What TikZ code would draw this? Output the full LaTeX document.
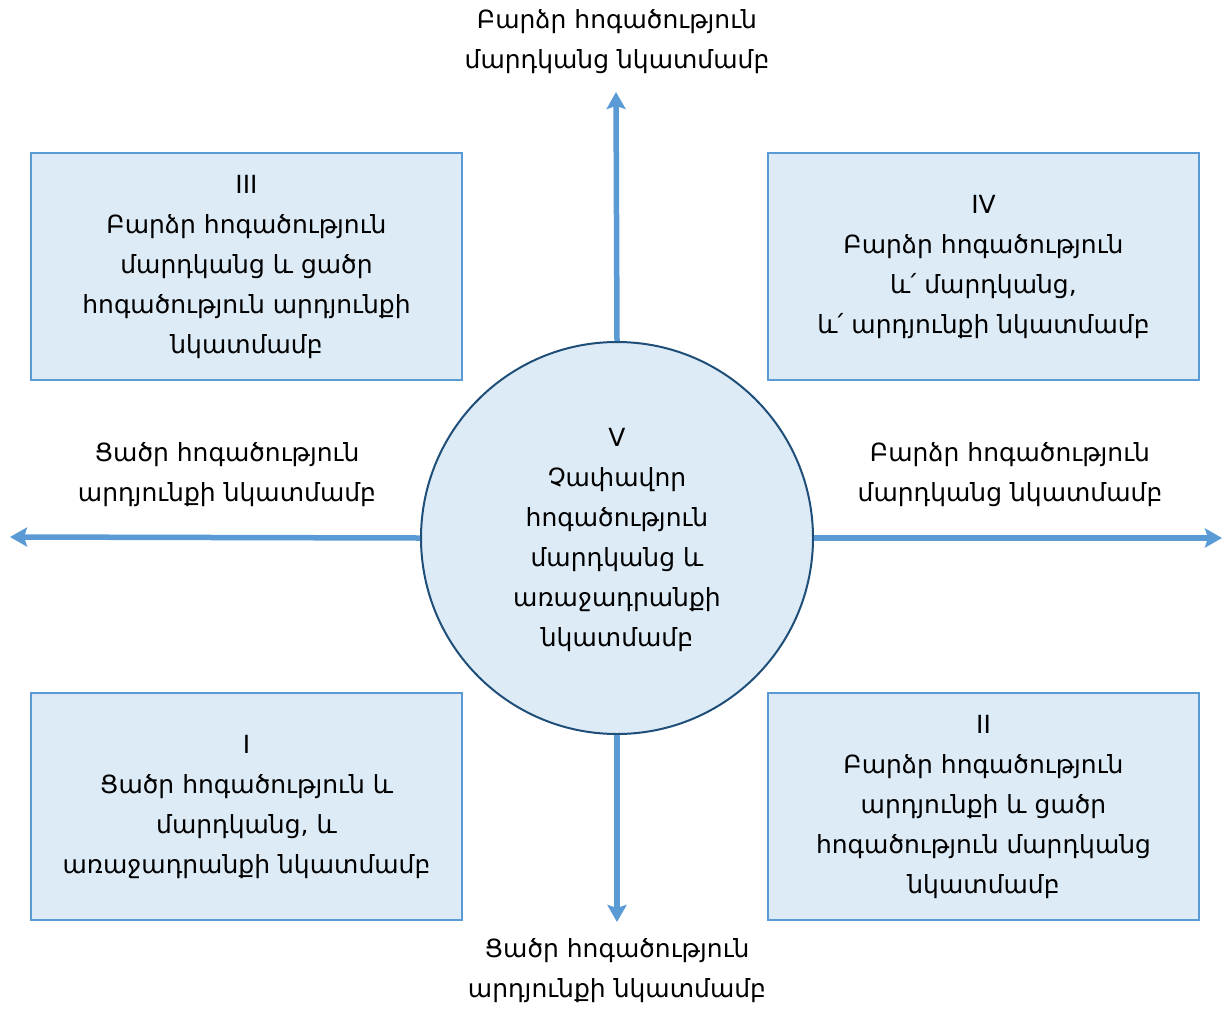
\documentclass[tikz,border=0pt]{standalone}
\usepackage{fontspec}
\setmainfont{DejaVu Sans}
\usetikzlibrary{arrows.meta}
\definecolor{lineblue}{HTML}{5B9BD5}
\definecolor{fillblue}{HTML}{DDEBF7}
\definecolor{darkblue}{HTML}{1F4E79}
\begin{document}
\begin{tikzpicture}[x=1pt,y=-1pt,
  every node/.style={font=\fontsize{25}{40}\selectfont, align=center, inner sep=0pt},
  quadbox/.style={draw=lineblue, fill=fillblue, line width=2pt, minimum width=431pt, minimum height=227pt},
  centre/.style={circle, draw=darkblue, fill=fillblue, line width=2pt, minimum size=392pt},
  axis/.style={draw=lineblue, line width=5.5pt, -{Stealth[length=17pt,width=19pt,inset=3pt]}},
  lbl/.style={}]
\useasboundingbox (0,0) rectangle (1225,1012);
\node[quadbox] (q3) at (246.5,266.5) {III\\Բարձր հոգածություն\\մարդկանց և ցածր\\հոգածություն արդյունքի\\նկատմամբ};
\node[quadbox] (q4) at (983.5,266.5) {IV\\Բարձր հոգածություն\\և՛ մարդկանց,\\և՛ արդյունքի նկատմամբ};
\node[quadbox] (q1) at (246.5,806.5) {I\\Ցածր հոգածություն և\\մարդկանց, և\\առաջադրանքի նկատմամբ};
\node[quadbox] (q2) at (983.5,806.5) {II\\Բարձր հոգածություն\\արդյունքի և ցածր\\հոգածություն մարդկանց\\նկատմամբ};
\node[centre] (c) at (617,538) {};
\node (ct) at (617,540) {V\\Չափավոր\\հոգածություն\\մարդկանց և\\առաջադրանքի\\նկատմամբ};
\coordinate (up) at (616,92);
\coordinate (down) at (617,922);
\coordinate (left) at (10,537);
\coordinate (right) at (1222,538);
\draw[axis] (c.north) -- (up);
\draw[axis] (c.south) -- (down);
\draw[axis] (c.west) -- (left);
\draw[axis] (c.east) -- (right);
\node[lbl] (lt) at (617,42) {Բարձր հոգածություն\\մարդկանց նկատմամբ};
\node[lbl] (lb) at (617,971) {Ցածր հոգածություն\\արդյունքի նկատմամբ};
\node[lbl] (ll) at (227,475) {Ցածր հոգածություն\\արդյունքի նկատմամբ};
\node[lbl] (lr) at (1010,475) {Բարձր հոգածություն\\մարդկանց նկատմամբ};
\end{tikzpicture}
\end{document}
